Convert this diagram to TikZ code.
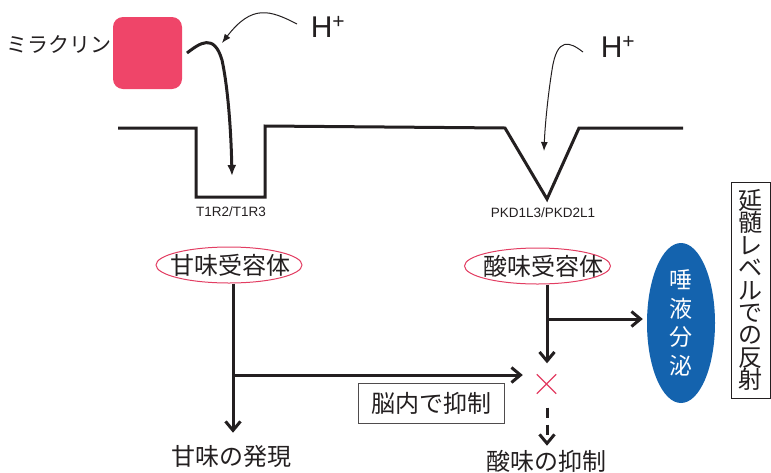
\documentclass[tikz,border=0pt]{standalone}
\usepackage{fontspec}
\setmainfont{Liberation Sans}
\newfontfamily\jp{Noto Sans CJK JP}
\usetikzlibrary{arrows.meta,shapes.geometric,calc}
\definecolor{linec}{HTML}{231F20}
\definecolor{pinkc}{HTML}{EF4569}
\definecolor{ovalc}{HTML}{E23D62}
\definecolor{bluec}{HTML}{1463AE}
\tikzset{
  thickline/.style={draw=linec, line width=3pt},
  bigarrow/.style={thickline, -{Straight Barb[length=9pt,width=15pt]}},
  thinarrow/.style={draw=linec, line width=1pt, -{Latex[length=9pt,width=7pt]}},
  jptext/.style={font=\jp\fontsize{24}{26}\selectfont, text=linec, inner sep=0pt},
  oval/.style={ellipse, draw=ovalc, line width=1pt, minimum width=146pt, minimum height=36pt, inner sep=0pt},
  hplus/.style={font=\fontsize{30}{32}\selectfont, text=linec, inner sep=0pt},
  recep/.style={font=\fontsize{13.5}{15}\selectfont, text=linec, inner sep=0pt},
}
\begin{document}
\begin{tikzpicture}[x=1pt,y=-1pt]
\useasboundingbox (0,0) rectangle (771,472);

% miraculin
\node[font=\jp\fontsize{21}{22}\selectfont, text=linec, inner sep=0pt] (mir) at (59,44) {ミラクリン};
\node[fill=pinkc, rounded corners=10pt, minimum width=69pt, minimum height=72pt, inner sep=0pt] (sq) at (147.5,53) {};

% membrane
\draw[thickline, line join=miter] (118,128) -- (196,128) -- (196,197) -- (265,197) -- (265,126) -- (505,128) -- (547,199) -- (579,128) -- (683,128);

% H+ labels
\node[hplus] (h1) at (328,27) {H\textsuperscript{+}};
\node[hplus] (h2) at (618,47) {H\textsuperscript{+}};
\coordinate (h1s) at (297,24);
\coordinate (h2s) at (583,52);

% miraculin curve
\coordinate (mc) at (187,53);
\coordinate (mtip) at (232,176);
\draw[draw=linec, line width=3pt, -{Latex[length=11pt,width=9pt]}] (mc) .. controls (200,43) and (214,33) .. (222,60) .. controls (228,88) and (231,130) .. (mtip);

% thin H+ arrows
\coordinate (t1) at (222,43);
\draw[thinarrow] (h1s) .. controls (270,10) and (252,4) .. (t1);
\coordinate (t2) at (544,151);
\draw[thinarrow] (h2s) .. controls (570,42) and (557,36) .. (552,70) .. controls (548,95) and (545,125) .. (t2);

% receptor labels
\node[recep] (r1) at (231,212) {T1R2/T1R3};
\node[recep] (r2) at (543,213) {PKD1L3/PKD2L1};

% receptors
\node[oval] (sweet) at (229,265) {};
\node[jptext] (sweett) at (230,265) {甘味受容体};
\node[oval] (sour) at (537.5,266) {};
\node[jptext] (sourt) at (543,266) {酸味受容体};

% cross
\node[minimum size=19pt, inner sep=0pt] (cross) at (546.5,384) {};
\draw[draw=ovalc, line width=1.3pt] (cross.north west) -- (cross.south east) (cross.north east) -- (cross.south west);

% outputs
\node[jptext] (sweetout) at (231,456) {甘味の発現};
\node[jptext] (sourout) at (546,461) {酸味の抑制};
\node[jptext, draw=linec!80, line width=1pt, minimum width=146pt, minimum height=40pt] (brain) at (431,403) {脳内で抑制};

% saliva
\node[ellipse, fill=bluec, minimum width=68pt, minimum height=160pt, inner sep=0pt, align=center,
      font=\jp\fontsize{23}{28.5}\selectfont, text=white] (sal) at (681,323) {唾\\液\\分\\泌};

% medulla box
\node[draw=linec, line width=1pt, minimum width=39pt, minimum height=216pt, inner sep=0pt, align=center,
      font=\jp\fontsize{24}{22.4}\selectfont, text=linec] (med) at (750.5,290) {延\\髄\\レ\\ベ\\ル\\で\\の\\反\\射};

% connectors
\coordinate (sj) at (233,375);
\draw[thickline] (sweet.south -| sj) -- (sj);
\draw[bigarrow] (sj) -- ($(sweetout.north -| sj)+(0,-12)$);
\draw[bigarrow] (sj) -- ($(cross.west |- sj)+(-14,0)$);
\coordinate (bj) at (547,319);
\draw[thickline] (sour.south -| bj) -- (bj);
\draw[bigarrow] (bj) -- ($(cross.north -| bj)+(0,-11)$);
\draw[bigarrow] (bj) -- ($(sal.west |- bj)+(-4,0)$);
\draw[thickline, dash pattern=on 10pt off 7pt, -{Straight Barb[length=9pt,width=15pt]}] ($(cross.south -| bj)+(0,14)$) -- ($(sourout.north -| bj)+(0,-4)$);
\end{tikzpicture}
\end{document}
